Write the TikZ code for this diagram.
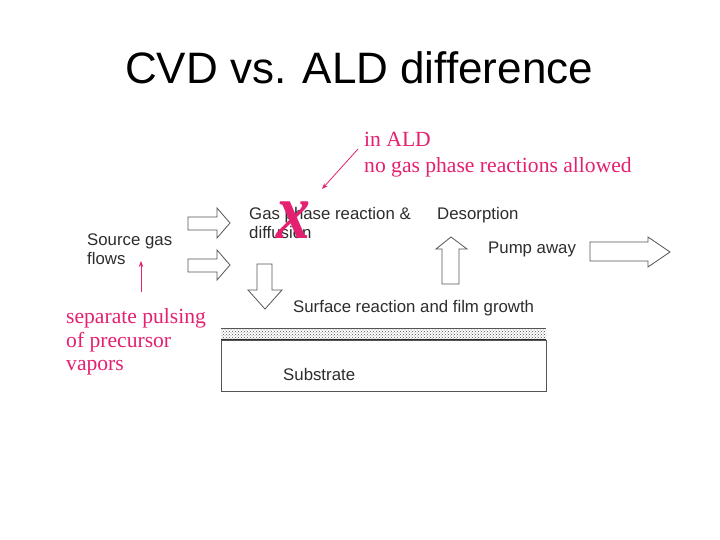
\documentclass[tikz,border=0pt]{standalone}
\usepackage{fontspec}
\setmainfont{Liberation Sans}
\newfontfamily\pinkfont{Liberation Serif}
\usetikzlibrary{arrows.meta, patterns}

\definecolor{aldpink}{RGB}{228,32,112}
\definecolor{labelgray}{RGB}{45,45,45}
\definecolor{arrowgray}{RGB}{85,85,85}

\begin{document}
\begin{tikzpicture}[
    x=1pt, y=-1pt,
    block arrow/.style={draw=arrowgray, fill=white, line width=0.8pt, line join=miter},
    label text/.style={font=\fontsize{16.8}{19}\selectfont, text=labelgray, anchor=base west, inner sep=0pt},
    pink text/.style={font=\pinkfont\fontsize{21.6}{25}\selectfont, text=aldpink, anchor=base west, inner sep=0pt},
    pink arrow/.style={-{Stealth[length=6pt, width=4.5pt]}, aldpink, line width=0.8pt}
]
    % Page
    \useasboundingbox[fill=white] (0,0) rectangle (720,540);

    % Title
    \node[font=\fontsize{44}{50}\selectfont, anchor=base, inner sep=0pt] (title) at (359,84) {CVD vs. ALD difference};

    % Substrate & Film
    \fill[pattern=crosshatch dots, pattern color=black!70] (221,328) rectangle (546,340);
    \draw[arrowgray, line width=0.6pt] (221,328) -- (546,328);
    \draw[labelgray, line width=1.2pt] (221,340) -- (546,340);
    \draw[arrowgray, line width=0.8pt] (221,340) rectangle (546,391);

    % Block arrows
    \draw[block arrow] (188,217) -- (217,217) -- (217,208) -- (230,223) -- (217,238) -- (217,230) -- (188,230) -- cycle;
    \draw[block arrow] (188,259) -- (217,259) -- (217,250) -- (230,265) -- (217,280) -- (217,272) -- (188,272) -- cycle;
    \draw[block arrow] (257,264) -- (272,264) -- (272,290) -- (282,290) -- (265,309) -- (248,290) -- (257,290) -- cycle;
    \draw[block arrow] (442,284) -- (442,249) -- (436,249) -- (451,237) -- (467,249) -- (459,249) -- (459,284) -- cycle;
    \draw[block arrow] (590,242) -- (648,242) -- (648,237) -- (670,252) -- (648,267) -- (648,261) -- (590,261) -- cycle;

    % Labels
    \node[label text] (source1) at (87,245) {Source gas};
    \node[label text] (source2) at (87,264) {flows};
    \node[label text] (gasphase1) at (249,220) {Gas phase reaction \&};
    \node[label text] (gasphase2) at (249,238) {diffusion};
    \node[label text] (desorb) at (437,220) {Desorption};
    \node[label text] (pump) at (488,253) {Pump away};
    \node[label text] (surface) at (293,312) {Surface reaction and film growth};
    \node[label text] (substrate) at (283,380) {Substrate};

    % ALD remarks
    \node[pink text] (ald1) at (364,147) {in ALD};
    \node[pink text] (ald2) at (364,173) {no gas phase reactions allowed};
    \node[pink text] (pulse1) at (66,323) {separate pulsing};
    \node[pink text] (pulse2) at (66,347) {of precursor};
    \node[pink text] (pulse3) at (66,370) {vapors};
    \node[font=\pinkfont\bfseries\itshape\fontsize{80}{80}\selectfont, text=aldpink, inner sep=0pt, xscale=0.85] (cross) at (293,220) {x};

    \coordinate (aldfoot) at (358,149);
    \coordinate (aldtip) at (322,189);
    \coordinate (pulsefoot) at (141,292);
    \coordinate (pulsetip) at (141,261);
    \draw[pink arrow] (aldfoot) -- (aldtip);
    \draw[pink arrow] (pulsefoot) -- (pulsetip);

\end{tikzpicture}
\end{document}
